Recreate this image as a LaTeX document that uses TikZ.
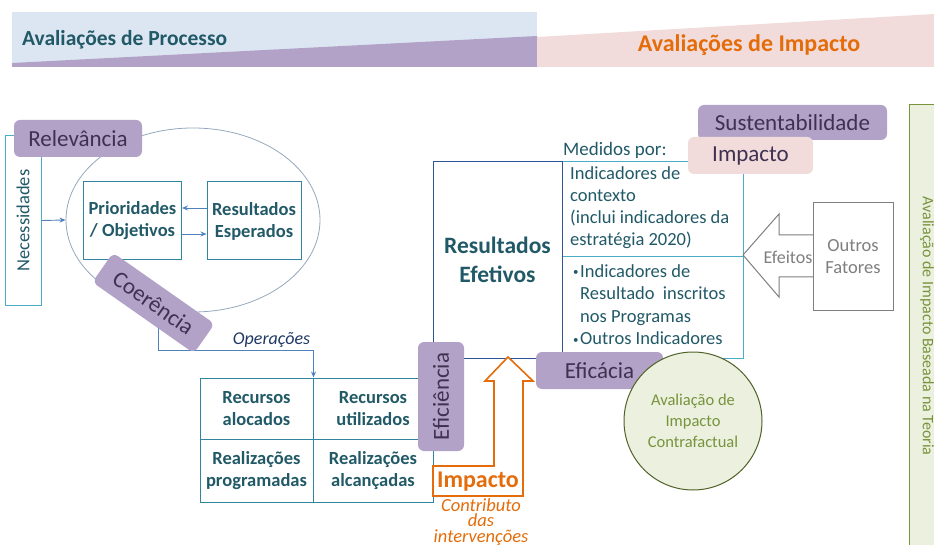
\documentclass[tikz,border=0pt]{standalone}
\usepackage{fontspec}
\setmainfont{Carlito}
\usetikzlibrary{arrows.meta,shapes.geometric}
\definecolor{purp}{HTML}{B3A2C7}
\definecolor{purptext}{HTML}{3F3151}
\definecolor{tealtext}{HTML}{215967}
\definecolor{tealline}{HTML}{31859C}
\definecolor{lighttealline}{HTML}{4BACC6}
\definecolor{darkblue}{HTML}{2F5496}
\definecolor{bannerblue}{HTML}{DCE6F2}
\definecolor{pinkfill}{HTML}{F2DCDB}
\definecolor{orng}{HTML}{E46C0A}
\definecolor{grayc}{HTML}{7F7F7F}
\definecolor{greenfill}{HTML}{EBF1DE}
\definecolor{greenline}{HTML}{77933C}
\definecolor{darkgreen}{HTML}{4F6228}
\definecolor{arrblue}{HTML}{4F81BD}
\definecolor{navy}{HTML}{1F3864}
\definecolor{ellc}{HTML}{95A8BE}
\tikzset{
  purplebox/.style={fill=purp, rounded corners=6pt, text=purptext, font=\fontsize{23}{26}\selectfont, inner sep=0pt},
  pinkbox/.style={fill=pinkfill, rounded corners=6pt, text=purptext, font=\fontsize{23}{26}\selectfont, inner sep=0pt},
  tealbox/.style={draw=tealline, line width=1pt, text=tealtext, font=\bfseries\fontsize{18.5}{22}\selectfont, align=center, inner sep=0pt},
  arr/.style={draw=arrblue, line width=0.9pt, -{Stealth[length=6pt,width=5pt]}},
  txt/.style={inner sep=0pt, align=left}
}
\newcommand{\smallbul}{\llap{\raisebox{0.15ex}{\fontsize{11}{11}\selectfont•}\hspace{1.5pt}}}
\begin{document}
\begin{tikzpicture}[x=1pt,y=-1pt]
\useasboundingbox (0,0) rectangle (934,545);
% banner
\fill[bannerblue] (12,12) rectangle (537,67);
\fill[purp] (12,63) -- (537,36) -- (537,67) -- (12,67) -- cycle;
\fill[pinkfill] (537,37) -- (934,14) -- (934,67) -- (537,67) -- cycle;
\node[anchor=west, inner sep=0pt, text=tealtext, font=\bfseries\fontsize{21.5}{24}\selectfont] (bproc) at (22,40) {Avaliações de Processo};
\node[inner sep=0pt, text=orng, font=\bfseries\fontsize{24}{28}\selectfont] (bimp) at (749,45) {Avaliações de Impacto};

% ellipse
\node[draw=ellc, line width=0.8pt, ellipse, minimum width=254pt, minimum height=184pt, inner sep=0pt] (ell) at (193,220) {};
% Necessidades
\node[draw=lighttealline, line width=1pt, minimum width=36pt, minimum height=169pt, inner sep=0pt, text=tealtext, font=\fontsize{18.5}{22}\selectfont] (nec) at (23,220.5) {\rotatebox{90}{Necessidades}};
\node[purplebox, minimum width=128pt, minimum height=37pt] (rel) at (78,138.5) {Relevância};
% inner boxes
\node[tealbox, minimum width=98pt, minimum height=78pt] (prio) at (132.5,221) {Prioridades\\/ Objetivos};
\node[tealbox, minimum width=94pt, minimum height=78pt] (resexp) at (254,221) {Resultados\\Esperados};
\draw[arr] ([yshift=13pt]resexp.west) -- ([yshift=13pt]prio.east);
\draw[arr] ([yshift=-13pt]prio.east) -- ([yshift=-13pt]resexp.west);
\draw[arr] (nec.east) -- (ell.west);

% grid
\node[tealbox, minimum width=113pt, minimum height=61pt] (c11) at (256.5,408.5) {Recursos\\alocados};
\node[tealbox, minimum width=120pt, minimum height=61pt] (c12) at (373,408.5) {Recursos\\utilizados};
\node[tealbox, minimum width=113pt, minimum height=63pt] (c21) at (256.5,470.5) {Realizações\\programadas};
\node[tealbox, minimum width=120pt, minimum height=63pt] (c22) at (373,470.5) {Realizações\\alcançadas};

% Operacoes connector
\coordinate (opstart) at (158,325);
\draw[arr] (opstart) -- ++(0,25) -| (c11.north east);
\node[inner sep=0pt, text=navy, font=\itshape\fontsize{18}{22}\selectfont] (ops) at (271.5,340) {Operações};
\node[purplebox, minimum width=124pt, minimum height=36pt, rotate=-35] (coer) at (153.5,303) {Coerência};

% Resultados efetivos
\node[draw=lighttealline, line width=1pt, minimum width=181pt, minimum height=95pt, inner sep=0pt] (topcell) at (652.5,209.5) {};
\node[draw=lighttealline, line width=1pt, minimum width=181pt, minimum height=101pt, inner sep=0pt] (botcell) at (652.5,307.5) {};
\node[draw=darkblue, line width=1pt, minimum width=129pt, minimum height=196pt, inner sep=0pt, text=tealtext, font=\bfseries\fontsize{23.5}{29}\selectfont, align=center] (reff) at (497.5,260) {Resultados\\Efetivos};
\node[txt, anchor=west, text=tealtext, font=\fontsize{19}{22}\selectfont] (med) at (563,150) {Medidos por:};
\node[txt, anchor=north west, text=tealtext, font=\fontsize{18.5}{22.2}\selectfont] (ctx) at (570,166) {Indicadores de\\contexto\\(inclui indicadores da\\estratégia 2020)};
\node[txt, anchor=north west, text=tealtext, font=\fontsize{18.5}{22.5}\selectfont] (ind) at (580,264) {\smallbul Indicadores de\\Resultado\ \ inscritos\\nos Programas\\\smallbul Outros Indicadores};

% Efeitos arrow
\draw[draw=grayc, fill=white, line width=1pt] (743,255) -- (779,214) -- (779,235) -- (814,235) -- (814,277) -- (779,277) -- (779,297) -- cycle;
\node[draw=grayc, fill=white, line width=1pt, minimum width=80pt, minimum height=107pt, inner sep=0pt, text=grayc, font=\fontsize{18.5}{22}\selectfont, align=center] (outros) at (853,256.5) {Outros\\Fatores};
\node[inner sep=0pt, text=grayc, font=\fontsize{18}{22}\selectfont] (efe) at (788,257) {Efeitos};

% top right labels
\node[purplebox, minimum width=189pt, minimum height=35pt] (sust) at (792.5,122.5) {Sustentabilidade};
\node[pinkbox, minimum width=125pt, minimum height=37pt] (impp) at (750.5,155.5) {Impacto};

% Eficiencia / Eficacia
\node[purplebox, minimum width=46pt, minimum height=109pt] (efic) at (441,396.5) {\rotatebox{90}{Eficiência}};
\node[purplebox, minimum width=127pt, minimum height=37pt] (efica) at (599.5,370.5) {Eficácia};
\node[circle, draw=darkgreen, fill=greenfill, line width=1pt, minimum size=138pt, inner sep=0pt, text=greenline, font=\fontsize{16.5}{21}\selectfont, align=center] (contra) at (693,421) {Avaliação de\\Impacto\\Contrafactual};

% orange impact arrow
\draw[draw=orng, fill=white, line width=1.6pt, line join=miter] (433,466) -- (494,466) -- (494,381) -- (485,381) -- (508,357) -- (533,381) -- (523,381) -- (523,496) -- (433,496) -- cycle;
\node[inner sep=0pt, text=orng, font=\bfseries\fontsize{24}{28}\selectfont] (impo) at (478,482) {Impacto};
\node[inner sep=0pt, text=orng, font=\itshape\fontsize{18.5}{15.5}\selectfont, align=center] (contrib) at (481,522) {Contributo\\das\\intervenções};

% right green panel
\draw[draw=greenline, fill=greenfill, line width=1pt] (909,105) rectangle (940,550);
\node[inner sep=0pt, text=greenline, font=\fontsize{16}{18}\selectfont, rotate=-90] (teoria) at (927,326) {Avaliação de Impacto Baseada na Teoria};
\end{tikzpicture}
\end{document}
